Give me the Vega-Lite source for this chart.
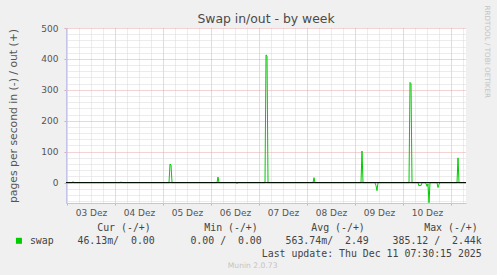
{
  "$schema": "https://vega.github.io/schema/vega-lite/v6.json",
  "width": 400,
  "height": 175,
  "autosize": {"type": "none"},
  "padding": {"left": 66, "top": 28, "right": 31, "bottom": 72},
  "background": "#f0f0f0",
  "title": {"text": "Swap in/out - by week", "font": "DejaVu Sans", "fontSize": 12.4, "fontWeight": "normal", "color": "#4a4a4a", "anchor": "middle", "offset": 4, "dy": 24},
  "layer": [
    {
      "data": {"values": [
        {"t": "2025-12-02T23:30:00Z", "v": 0, "s": "swap"},
        {"t": "2025-12-03T02:30:00Z", "v": 0, "s": "swap"},
        {"t": "2025-12-03T03:00:00Z", "v": 3, "s": "swap"},
        {"t": "2025-12-03T03:30:00Z", "v": 0, "s": "swap"},
        {"t": "2025-12-04T02:30:00Z", "v": 0, "s": "swap"},
        {"t": "2025-12-04T03:00:00Z", "v": 2, "s": "swap"},
        {"t": "2025-12-04T03:30:00Z", "v": 0, "s": "swap"},
        {"t": "2025-12-05T03:00:00Z", "v": 0, "s": "swap"},
        {"t": "2025-12-05T03:30:00Z", "v": 60, "s": "swap"},
        {"t": "2025-12-05T04:00:00Z", "v": 57, "s": "swap"},
        {"t": "2025-12-05T04:30:00Z", "v": 0, "s": "swap"},
        {"t": "2025-12-06T03:00:00Z", "v": 0, "s": "swap"},
        {"t": "2025-12-06T03:30:00Z", "v": 18, "s": "swap"},
        {"t": "2025-12-06T04:00:00Z", "v": 0, "s": "swap"},
        {"t": "2025-12-06T12:30:00Z", "v": 0, "s": "swap"},
        {"t": "2025-12-06T13:00:00Z", "v": -3, "s": "swap"},
        {"t": "2025-12-06T13:30:00Z", "v": 0, "s": "swap"},
        {"t": "2025-12-07T03:00:00Z", "v": 0, "s": "swap"},
        {"t": "2025-12-07T03:30:00Z", "v": 413, "s": "swap"},
        {"t": "2025-12-07T04:00:00Z", "v": 410, "s": "swap"},
        {"t": "2025-12-07T04:30:00Z", "v": 0, "s": "swap"},
        {"t": "2025-12-08T03:00:00Z", "v": 0, "s": "swap"},
        {"t": "2025-12-08T03:30:00Z", "v": 16, "s": "swap"},
        {"t": "2025-12-08T04:00:00Z", "v": 0, "s": "swap"},
        {"t": "2025-12-09T03:00:00Z", "v": 0, "s": "swap"},
        {"t": "2025-12-09T03:30:00Z", "v": 102, "s": "swap"},
        {"t": "2025-12-09T04:00:00Z", "v": 0, "s": "swap"},
        {"t": "2025-12-09T10:00:00Z", "v": 0, "s": "swap"},
        {"t": "2025-12-09T10:30:00Z", "v": -10, "s": "swap"},
        {"t": "2025-12-09T11:00:00Z", "v": -26, "s": "swap"},
        {"t": "2025-12-09T11:30:00Z", "v": 0, "s": "swap"},
        {"t": "2025-12-10T03:00:00Z", "v": 0, "s": "swap"},
        {"t": "2025-12-10T03:30:00Z", "v": 324, "s": "swap"},
        {"t": "2025-12-10T04:00:00Z", "v": 320, "s": "swap"},
        {"t": "2025-12-10T04:30:00Z", "v": 0, "s": "swap"},
        {"t": "2025-12-10T07:30:00Z", "v": 0, "s": "swap"},
        {"t": "2025-12-10T08:00:00Z", "v": -11, "s": "swap"},
        {"t": "2025-12-10T08:30:00Z", "v": -8, "s": "swap"},
        {"t": "2025-12-10T09:00:00Z", "v": -10, "s": "swap"},
        {"t": "2025-12-10T09:30:00Z", "v": 0, "s": "swap"},
        {"t": "2025-12-10T11:00:00Z", "v": 0, "s": "swap"},
        {"t": "2025-12-10T11:30:00Z", "v": -3, "s": "swap"},
        {"t": "2025-12-10T12:00:00Z", "v": -12, "s": "swap"},
        {"t": "2025-12-10T12:30:00Z", "v": -4, "s": "swap"},
        {"t": "2025-12-10T13:00:00Z", "v": -65, "s": "swap"},
        {"t": "2025-12-10T13:30:00Z", "v": 0, "s": "swap"},
        {"t": "2025-12-10T17:00:00Z", "v": 0, "s": "swap"},
        {"t": "2025-12-10T17:30:00Z", "v": -16, "s": "swap"},
        {"t": "2025-12-10T18:00:00Z", "v": -6, "s": "swap"},
        {"t": "2025-12-10T18:30:00Z", "v": 0, "s": "swap"},
        {"t": "2025-12-11T03:00:00Z", "v": 0, "s": "swap"},
        {"t": "2025-12-11T03:30:00Z", "v": 80, "s": "swap"},
        {"t": "2025-12-11T04:00:00Z", "v": 0, "s": "swap"},
        {"t": "2025-12-11T07:30:00Z", "v": 0, "s": "swap"}
      ]},
      "mark": {"type": "line", "strokeWidth": 1, "clip": true},
      "encoding": {
        "x": {
          "field": "t", "type": "temporal",
          "scale": {"type": "utc", "domain": [1764718200000, 1765438200000]},
          "axis": {
            "title": null,
            "values": [1764720000000, 1764741600000, 1764763200000, 1764784800000, 1764806400000, 1764828000000, 1764849600000, 1764871200000, 1764892800000, 1764914400000, 1764936000000, 1764957600000, 1764979200000, 1765000800000, 1765022400000, 1765044000000, 1765065600000, 1765087200000, 1765108800000, 1765130400000, 1765152000000, 1765173600000, 1765195200000, 1765216800000, 1765238400000, 1765260000000, 1765281600000, 1765303200000, 1765324800000, 1765346400000, 1765368000000, 1765389600000, 1765411200000, 1765432800000],
            "grid": true,
            "gridColor": {"condition": {"test": "utchours(datum.value) === 0", "value": "#e6a6a6"}, "value": "#d9d9d9"},
            "gridDash": [1, 1],
            "gridWidth": 1,
            "labelExpr": "utchours(datum.value) === 12 ? utcFormat(datum.value, '%d') + ' Dez' : ''",
            "labelOverlap": false,
            "labelFlush": false,
            "labelBound": false,
            "labelColor": "#555555",
            "labelFont": "DejaVu Sans",
            "labelFontSize": 9,
            "labelPadding": 3,
            "ticks": true,
            "tickSize": 2,
            "tickColor": {"condition": {"test": "utchours(datum.value) === 0", "value": "#e6a6a6"}, "value": "transparent"},
            "domainColor": "#c4c4e8",
            "domainWidth": 1
          }
        },
        "y": {
          "field": "v", "type": "quantitative",
          "scale": {"domain": [-66, 500], "nice": false, "zero": false},
          "axis": {
            "title": "pages per second in (-) / out (+)",
            "titleFont": "DejaVu Sans",
            "titleFontSize": 10.8,
            "titleFontWeight": "normal",
            "titleColor": "#555555",
            "titlePadding": 22,
            "values": [-60, -40, -20, 0, 20, 40, 60, 80, 100, 120, 140, 160, 180, 200, 220, 240, 260, 280, 300, 320, 340, 360, 380, 400, 420, 440, 460, 480, 500],
            "grid": true,
            "gridColor": {"condition": {"test": "datum.value % 100 === 0", "value": "#e6a6a6"}, "value": "#d9d9d9"},
            "gridDash": [1, 1],
            "gridWidth": 1,
            "labelExpr": "datum.value % 100 === 0 ? datum.label : ''",
            "labelOverlap": false,
            "labelColor": "#555555",
            "labelFont": "DejaVu Sans",
            "labelFontSize": 9,
            "labelPadding": 6,
            "ticks": true,
            "tickSize": 2,
            "tickColor": {"condition": {"test": "datum.value % 100 === 0", "value": "#e6a6a6"}, "value": "transparent"},
            "domainColor": "#c4c4e8",
            "domainWidth": 1
          }
        },
        "color": {
          "field": "s", "type": "nominal",
          "scale": {"domain": ["swap", "upd", "munin"], "range": ["#00cc00", "#00cc00", "#00cc00"]},
          "legend": {
            "orient": "none",
            "legendX": -52,
            "legendY": 195,
            "direction": "vertical",
            "padding": 0,
            "title": "\u200b\u00a0\u00a0\u00a0\u00a0\u00a0\u00a0\u00a0\u00a0\u00a0\u00a0\u00a0\u00a0\u00a0\u00a0Cur (-/+)\u00a0\u00a0\u00a0\u00a0\u00a0\u00a0\u00a0\u00a0\u00a0Min (-/+)\u00a0\u00a0\u00a0\u00a0\u00a0\u00a0\u00a0\u00a0\u00a0Avg (-/+)\u00a0\u00a0\u00a0\u00a0\u00a0\u00a0\u00a0\u00a0\u00a0\u00a0Max (-/+)",
            "titleFont": "DejaVu Sans Mono",
            "titleFontSize": 9.88,
            "titleFontWeight": "normal",
            "titleColor": "#444444",
            "titleLimit": 2000,
            "titlePadding": 3,
            "labelFont": "DejaVu Sans Mono",
            "labelFontSize": 9.88,
            "labelColor": "#444444",
            "labelLimit": 2000,
            "labelOffset": 6,
            "rowPadding": 2,
            "symbolType": "square",
            "symbolSize": 36,
            "symbolFillColor": "#00cc00",
            "symbolStrokeWidth": 0,
            "labelExpr": "datum.value === 'swap' ? 'swap\u00a0\u00a0\u00a0\u00a046.13m/\u00a0\u00a00.00\u00a0\u00a0\u00a0\u00a0\u00a0\u00a00.00\u00a0/\u00a0\u00a00.00\u00a0\u00a0\u00a0\u00a0563.74m/\u00a0\u00a02.49\u00a0\u00a0\u00a0\u00a0385.12\u00a0/\u00a0\u00a02.44k' : datum.value === 'upd' ? '\u200b\u00a0\u00a0\u00a0\u00a0\u00a0\u00a0\u00a0\u00a0\u00a0\u00a0\u00a0\u00a0\u00a0\u00a0\u00a0\u00a0\u00a0\u00a0\u00a0\u00a0\u00a0\u00a0\u00a0\u00a0\u00a0\u00a0\u00a0\u00a0\u00a0\u00a0\u00a0\u00a0\u00a0\u00a0\u00a0\u00a0\u00a0\u00a0\u00a0Last update: Thu Dec 11 07:30:15 2025' : '\u200b\u00a0\u00a0\u00a0\u00a0\u00a0\u00a0\u00a0\u00a0\u00a0\u00a0\u00a0\u00a0\u00a0\u00a0\u00a0\u00a0\u00a0\u00a0\u00a0\u00a0\u00a0\u00a0\u00a0\u00a0\u00a0\u00a0\u00a0\u00a0\u00a0\u00a0\u00a0\u00a0\u00a0\u00a0\u00a0\u00a0\u00a0\u00a0\u00a0\u00a0\u00a0\u00a0\u00a0\u00a0\u00a0\u00a0\u00a0\u00a0\u00a0\u00a0\u00a0\u00a0\u00a0\u00a0\u00a0\u00a0\u00a0\u00a0\u00a0\u00a0\u00a0\u00a0\u00a0\u00a0\u00a0\u00a0\u00a0\u00a0\u00a0\u00a0\u00a0\u00a0\u00a0\u00a0\u00a0\u00a0\u00a0\u00a0\u00a0\u00a0\u00a0\u00a0Munin 2.0.73'",
            "encode": {
              "symbols": {"update": {
                "opacity": {"signal": "datum.value === 'swap' ? 1 : 0"}
              }},
              "labels": {"update": {
                "fill": {"signal": "datum.value === 'munin' ? '#c4c4c4' : '#444444'"},
                "font": {"signal": "datum.value === 'munin' ? 'DejaVu Sans' : 'DejaVu Sans Mono'"},
                "fontSize": {"signal": "datum.value === 'munin' ? 7.6 : 9.88"}
              }}
            }
          }
        }
      }
    },
    {
      "data": {"values": [{"v": 0}]},
      "mark": {"type": "rule", "color": "#000000", "strokeWidth": 1},
      "encoding": {
        "y": {
          "field": "v", "type": "quantitative",
          "axis": {
            "orient": "right",
            "title": "RRDTOOL / TOBI OETIKER",
            "titleFont": "DejaVu Sans",
            "titleFontSize": 7.2,
            "titleFontWeight": "normal",
            "titleColor": "#c4c4c4",
            "titleAngle": 90,
            "titleAlign": "left",
            "titleY": -23,
            "titlePadding": 16,
            "labels": false,
            "ticks": false,
            "domain": false,
            "grid": false
          }
        }
      }
    }
  ],
  "resolve": {"axis": {"y": "independent"}},
  "config": {"view": {"fill": "#ffffff", "stroke": null}}
}
